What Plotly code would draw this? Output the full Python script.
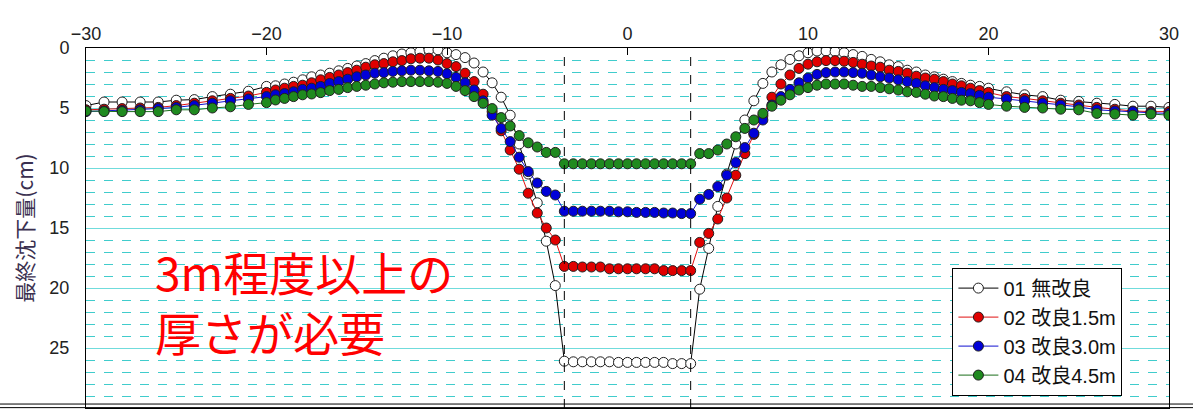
import plotly.graph_objects as go

# ---- data ----
x_outer_left = [-30, -29, -28, -27, -26, -25, -24, -23, -22, -21]
x_inner = [v / 2 for v in range(-40, 41)]
x_outer_right = [21, 22, 23, 24, 25, 26, 27, 28, 29, 30]
x_pos = x_outer_left + x_inner + x_outer_right

series_names = ["01 無改良", "02 改良1.5m", "03 改良3.0m", "04 改良4.5m"]

s01 = ([4.8, 4.5, 4.5, 4.5, 4.5, 4.35, 4.3, 4.05, 3.85, 3.6]
       + [3.2, 3.15, 3.0, 2.85, 2.65, 2.4, 2.25, 2.1, 1.9, 1.7, 1.5, 1.3, 1.05, 0.85, 0.65, 0.5, 0.4, 0.3, 0.15, 0.15]
       + [0.4, 0.55, 0.8, 1.25, 2.0, 2.9, 4.1, 5.6, 8.0, 10.5, 12.9, 16.1, 19.8]
       + [26.1, 26.15, 26.15, 26.15, 26.15, 26.15, 26.2, 26.2, 26.2, 26.2, 26.2, 26.2, 26.3, 26.3, 26.3]
       + [20.1, 16.7, 13.2, 10.5, 8.0, 6.0, 4.4, 2.95, 2.0, 1.4, 0.95, 0.65, 0.4]
       + [0.25, 0.25, 0.3, 0.4, 0.55, 0.7, 0.95, 1.15, 1.4, 1.55, 1.85, 2.0, 2.25, 2.4, 2.6, 2.8, 2.95, 3.1, 3.2, 3.35]
       + [3.65, 3.9, 4.05, 4.35, 4.45, 4.6, 4.7, 4.85, 4.85, 4.95])

s02 = ([5.15, 5.1, 5.05, 5.0, 4.95, 4.8, 4.6, 4.4, 4.2, 4.0]
       + [3.7, 3.5, 3.35, 3.2, 3.1, 2.9, 2.65, 2.45, 2.25, 2.05, 1.85, 1.6, 1.4, 1.3, 1.15, 1.05, 0.9, 0.85, 0.85, 1.0]
       + [1.3, 1.55, 2.1, 2.8, 3.85, 5.3, 6.9, 8.5, 10.1, 12.1, 13.75, 15.0, 16.0]
       + [18.2, 18.2, 18.25, 18.25, 18.25, 18.4, 18.4, 18.4, 18.4, 18.4, 18.4, 18.55, 18.55, 18.55, 18.55]
       + [16.2, 15.45, 14.25, 12.5, 10.6, 8.8, 7.2, 5.65, 4.1, 3.0, 2.25, 1.7, 1.35]
       + [1.15, 1.05, 1.05, 1.1, 1.2, 1.35, 1.5, 1.6, 1.85, 1.95, 2.1, 2.35, 2.5, 2.6, 2.8, 3.0, 3.15, 3.35, 3.55, 3.7]
       + [4.05, 4.2, 4.4, 4.6, 4.75, 4.95, 5.1, 5.25, 5.3, 5.3])

s03 = ([5.3, 5.25, 5.2, 5.15, 5.05, 4.95, 4.8, 4.6, 4.4, 4.25]
       + [4.05, 3.9, 3.8, 3.65, 3.45, 3.35, 3.2, 2.95, 2.8, 2.6, 2.4, 2.25, 2.1, 2.05, 1.95, 1.9, 1.85, 1.85, 1.9, 1.95]
       + [2.15, 2.45, 2.9, 3.5, 4.4, 5.6, 6.7, 7.8, 9.1, 10.3, 11.25, 11.95, 12.25]
       + [13.6, 13.6, 13.6, 13.6, 13.6, 13.6, 13.65, 13.65, 13.7, 13.7, 13.7, 13.75, 13.75, 13.8, 13.8]
       + [12.6, 12.2, 11.55, 10.6, 9.55, 8.3, 7.1, 6.0, 4.75, 4.05, 3.45, 2.9, 2.5]
       + [2.2, 2.05, 2.0, 2.0, 2.05, 2.1, 2.25, 2.4, 2.5, 2.65, 2.8, 2.95, 3.15, 3.3, 3.45, 3.55, 3.7, 3.8, 3.95, 4.1]
       + [4.25, 4.4, 4.6, 4.75, 4.9, 5.15, 5.25, 5.3, 5.4, 5.45])

s04 = ([5.25, 5.3, 5.3, 5.3, 5.3, 5.15, 5.15, 5.0, 4.9, 4.7]
       + [4.55, 4.33, 4.2, 4.05, 3.9, 3.83, 3.72, 3.55, 3.45, 3.3, 3.2, 3.1, 3.0, 2.9, 2.85, 2.8, 2.8, 2.8, 2.8, 2.85]
       + [2.95, 3.2, 3.55, 4.05, 4.6, 5.05, 5.8, 6.5, 7.3, 7.9, 8.25, 8.7, 8.7]
       + [9.65, 9.65, 9.65, 9.65, 9.65, 9.65, 9.65, 9.65, 9.65, 9.65, 9.65, 9.65, 9.65, 9.65, 9.65]
       + [8.8, 8.8, 8.5, 8.0, 7.4, 6.7, 6.0, 5.45, 4.85, 4.35, 3.9, 3.5, 3.3]
       + [3.1, 3.0, 3.0, 3.0, 3.1, 3.2, 3.2, 3.3, 3.4, 3.5, 3.65, 3.7, 3.85, 4.0, 4.05, 4.2, 4.35, 4.4, 4.55, 4.7]
       + [4.85, 4.95, 5.0, 5.1, 5.15, 5.45, 5.5, 5.6, 5.5, 5.6])

boundary_x = [-3.5, 3.5]
x_ticks = [-30, -20, -10, 0, 10, 20, 30]
y_ticks = [0, 5, 10, 15, 20, 25, 30]
y_title = "最終沈下量(cm)"
note_lines = ["3m程度以上の", "厚さが必要"]

# ---- styles ----
line_colors = ["#000000", "#e01010", "#1010d0", "#1a6e1a"]
fill_colors = ["#ffffff", "#e00000", "#0000d8", "#1f8a1f"]
FONT = "Liberation Sans, Arial, Noto Sans CJK JP, sans-serif"

fig = go.Figure()
for name, ys, lc, fc in zip(series_names, [s01, s02, s03, s04], line_colors, fill_colors):
    fig.add_trace(go.Scatter(
        x=x_pos, y=ys, name=name, mode="lines+markers",
        line=dict(color=lc, width=1),
        marker=dict(size=10, color=fc, line=dict(color="#202020", width=1)),
    ))

for bx in boundary_x:
    fig.add_shape(type="line", xref="x", yref="paper", x0=bx, x1=bx, y0=0, y1=1,
                  line=dict(color="black", width=1, dash="dash"), layer="above")

# bottom double border (slide table line)
for yb in (0.011, 0.001):
    fig.add_shape(type="line", xref="paper", yref="paper", x0=-0.08, x1=1.03, y0=yb, y1=yb,
                  line=dict(color="black", width=1))

for txt, yp in zip(note_lines, [0.380, 0.215]):
    fig.add_annotation(text=txt, xref="paper", yref="paper", x=0.062, y=yp,
                       xanchor="left", yanchor="middle", showarrow=False, align="left",
                       height=54, valign="middle",
                       font=dict(family="Noto Sans CJK JP, sans-serif", size=46, color="#ff0000"))

fig.update_layout(
    width=1193, height=417,
    margin=dict(l=86, r=24, t=48, b=9),
    paper_bgcolor="white", plot_bgcolor="white",
    showlegend=True,
    legend=dict(x=0.8, y=0.39, xanchor="left", yanchor="top",
                bgcolor="white", bordercolor="black", borderwidth=1,
                font=dict(family=FONT, size=20, color="#111"),
                tracegroupgap=0, itemwidth=40),
    font=dict(family=FONT),
)
fig.update_xaxes(range=[-30, 30], side="top", tickvals=x_ticks,
                 showgrid=False, zeroline=False,
                 showline=True, linecolor="black", linewidth=1, mirror=True,
                 ticks="inside", ticklen=7, tickcolor="black",
                 tickfont=dict(family=FONT, size=18, color="#222"))
fig.update_yaxes(range=[30, 0], tickvals=y_ticks,
                 showgrid=True, gridcolor="#70dcdc", gridwidth=1,
                 minor=dict(dtick=1, showgrid=True, gridcolor="#40cccc", griddash="dash", gridwidth=1),
                 zeroline=False, showline=True, linecolor="black", linewidth=1, mirror=True,
                 ticks="", ticklabelstandoff=12, automargin=False,
                 tickfont=dict(family=FONT, size=18, color="#222"),
                 title=dict(text=y_title, standoff=10,
                            font=dict(family="Noto Sans CJK JP, sans-serif", size=21, color="#3a3050")))

fig.write_html("out.html")
